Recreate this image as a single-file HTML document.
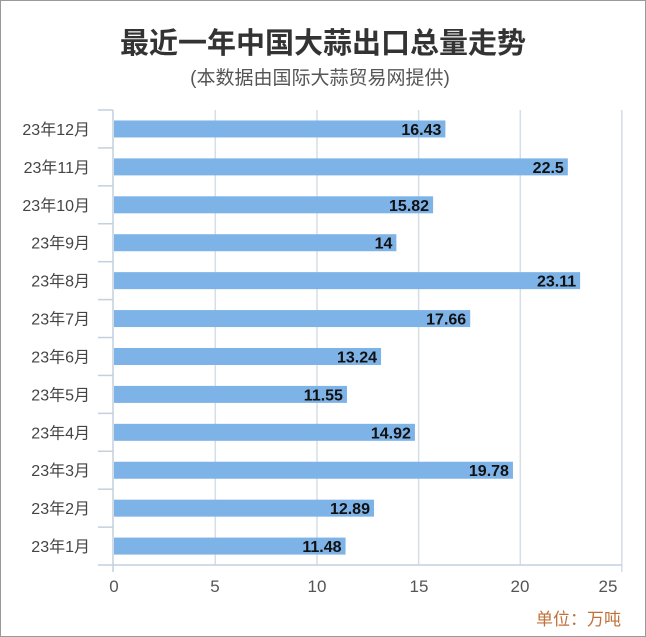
<!DOCTYPE html>
<html><head><meta charset="utf-8"><style>
body{margin:0;background:#fff}
.f{position:absolute;left:0;top:0;width:644px;height:635px;border:1px solid #999;}
</style></head><body>
<div class="f"></div>
<svg width="646" height="637" style="position:absolute;left:0;top:0" font-family="Liberation Sans, Noto Sans CJK SC, sans-serif">
<text x="323" y="53" text-anchor="middle" font-size="29" font-weight="bold" fill="#333">最近一年中国大蒜出口总量走势</text>
<text x="320" y="84" text-anchor="middle" font-size="19" fill="#555">(本数据由国际大蒜贸易网提供)</text>
<g stroke="#d5dde6" stroke-width="1.5">
<line x1="215.3" y1="110" x2="215.3" y2="565"/>
<line x1="317" y1="110" x2="317" y2="565"/>
<line x1="418.6" y1="110" x2="418.6" y2="565"/>
<line x1="520.3" y1="110" x2="520.3" y2="565"/>
<line x1="621.8" y1="110" x2="621.8" y2="572"/>
</g>
<g stroke="#c3d0de" stroke-width="1.5">
<line x1="113" y1="110" x2="113" y2="572"/>
<line x1="98" y1="565" x2="622" y2="565"/>
</g>
<g id="bars"></g>
<g font-size="17" fill="#555" text-anchor="middle">
<text x="114" y="592">0</text><text x="215" y="592">5</text><text x="317" y="592">10</text><text x="419" y="592">15</text><text x="520" y="592">20</text><text x="608" y="592">25</text>
</g>
<text x="621" y="625" text-anchor="end" font-size="17" fill="#c0713a">单位：万吨</text>
</svg>
<script>
var v=[16.43,22.5,15.82,14,23.11,17.66,13.24,11.55,14.92,19.78,12.89,11.48];
var n=["12","11","10","9","8","7","6","5","4","3","2","1"];
var s="";
for(var i=0;i<12;i++){var c=110+37.92*(i+0.5);var w=v[i]*20.17;
s+='<line x1="98" y1="'+(110+37.92*i)+'" x2="113" y2="'+(110+37.92*i)+'" stroke="#c3d0de" stroke-width="1.5"/>';
s+='<rect x="114" y="'+(c-8.5)+'" width="'+w+'" height="17" fill="#7eb3e8"/>';
s+='<text x="'+(114+w-4)+'" y="'+(c+6)+'" text-anchor="end" font-size="16" font-weight="bold" fill="#111">'+v[i]+'</text>';
s+='<text x="90" y="'+(c+6)+'" text-anchor="end" font-size="16" fill="#444">23年'+n[i]+'月</text>';}
document.getElementById("bars").innerHTML=s;
</script>
</body></html>
